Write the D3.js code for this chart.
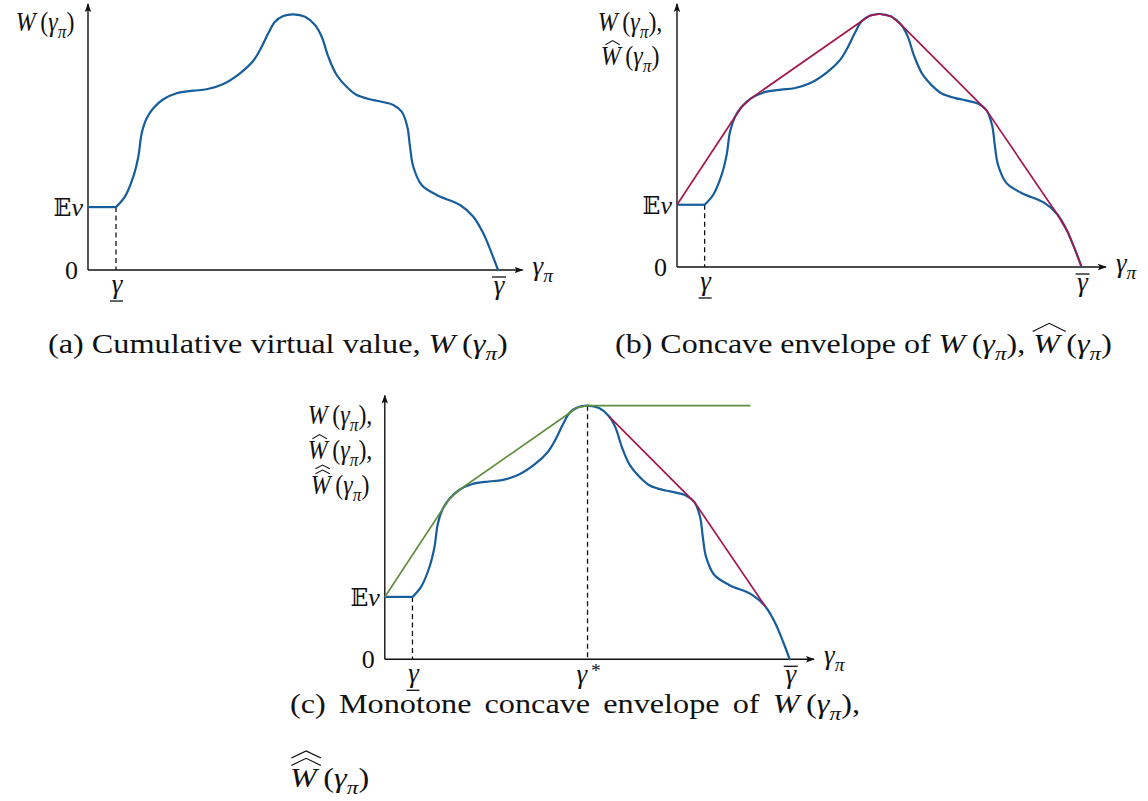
<!DOCTYPE html>
<html>
<head>
<meta charset="utf-8">
<script src="https://cdn.jsdelivr.net/npm/d3@7"></script>
<style>
  html, body { margin: 0; padding: 0; background: #fff; }
  svg { display: block; }
</style>
</head>
<body>
<svg id="chart" width="1148" height="801"></svg>
<script>
// ---- data: cumulative virtual value W(γπ), γπ scaled so that γ̄ = 100, W scaled so that max W = 100
const gammaPi = [6.83, 9.0, 11.05, 12.27, 13.1, 14.32, 15.93, 18.37, 21.63, 25.68, 28.95, 33.0, 37.07, 40.32,
  41.95, 43.98, 45.61, 47.63, 50.07, 52.93, 55.37, 57.0, 58.61, 60.66, 63.9, 65.54, 68.78, 70.41, 74.46,
  76.51, 77.88, 78.54, 79.34, 81.39, 85.05, 90.73, 93.98, 96.41, 98.46, 100];
const W = [24.6, 28.67, 36.49, 44.31, 53.46, 59.33, 63.24, 66.76, 69.11, 70.12, 70.67, 72.74, 76.93, 81.85,
  86.04, 92.57, 97.11, 99.34, 100, 99.06, 95.82, 91.24, 83.42, 76.26, 70.4, 68.44, 66.76, 66.21, 64.53,
  61.91, 56.04, 48.22, 40.4, 33.24, 29.33, 25.42, 20.84, 14.35, 6.53, 0];
const expectedValue = 24.6;   // W on [0, γ]
const gammaLow = 6.83;        // γ (underlined)
const gammaHigh = 100;        // γ̄
const flatEnd = 90.3;         // end of the flat part of the monotone envelope
const yTickValues = [0, expectedValue];

const SERIF = '"Liberation Serif", "Times New Roman", Tinos, Times, serif';
const INK = "#111";
const BLUE = "#165d9c", RED = "#a5174c", GREEN = "#5f8f3e";

const svg = d3.select("#chart");

// arrowhead for the axes
svg.append("defs").append("marker")
  .attr("id", "arrow").attr("viewBox", "0 -4 9 8")
  .attr("refX", 8).attr("refY", 0)
  .attr("markerWidth", 9).attr("markerHeight", 8)
  .attr("markerUnits", "userSpaceOnUse").attr("orient", "auto")
  .append("path").attr("d", "M0,-3.2 L9,0 L0,3.2 L1.8,0 Z").attr("fill", INK);

// ---- curve points and its concave envelope (upper hull)
const pts = [[0, expectedValue]].concat(gammaPi.map((g, i) => [g, W[i]]))
  .map((p, i) => ({ x: p[0], y: p[1], i }));

function upperHull(points) {
  const h = [];
  for (const p of points) {
    while (h.length >= 2) {
      const a = h[h.length - 2], b = h[h.length - 1];
      const cr = (b.x - a.x) * (p.y - a.y) - (b.y - a.y) * (p.x - a.x);
      if (cr >= 0) h.pop(); else break;
    }
    h.push(p);
  }
  return h;
}
const hull = upperHull(pts);
const peakIdx = d3.maxIndex(W);
const gammaStar = gammaPi[peakIdx];
const wMax = W[peakIdx];

// increasing part of the hull, then flat at the maximum
const monotoneEnv = hull.filter(p => p.x <= gammaStar).concat([{ x: flatEnd, y: wMax }]);
// straight bridges of the hull to the right of the peak
const rightBridges = [];
for (let k = 0; k < hull.length - 1; k++) {
  const a = hull[k], b = hull[k + 1];
  if (a.x >= gammaStar && b.i - a.i > 1) {
    if (!rightBridges.length || rightBridges[rightBridges.length - 1] !== a) rightBridges.push(a);
    rightBridges.push(b);
  }
}

// ---- math text helper: segments with italic / sub / sup and hats.
// Drawn in its own group at (x, y), optionally squeezed horizontally by sx.
function mathText(parent, segs, o) {
  const size = o.size || 26;
  const sx = o.sx || 1;
  const g = parent.append("g").attr("transform", `translate(${o.x || 0},${o.y || 0}) scale(${sx},1)`);
  const t = g.append("text")
    .attr("x", 0).attr("y", 0)
    .attr("font-family", SERIF).attr("font-size", size)
    .attr("fill", INK).attr("text-anchor", o.anchor || "start");
  let shift = 0;
  segs.forEach(s => {
    const sp = t.append("tspan").text(s.t);
    if (s.it) sp.attr("font-style", "italic");
    if (s.ff) sp.attr("font-family", s.ff);
    if (s.fs) sp.attr("font-size", size * s.fs);
    if (s.sub || s.sup) sp.attr("font-size", size * 0.72);
    const target = s.sub ? size * 0.26 : (s.sup ? -size * 0.22 : 0);
    if (target !== shift) { sp.attr("dy", target - shift); shift = target; }
  });
  let idx = 0;
  segs.forEach(s => {
    if (s.hats) {
      const e = t.node().getExtentOfChar(idx);
      const cx = e.x + e.width * 0.6;
      const hw = e.width * (s.hatW || 0.4);
      const h = size * (s.hatH || 0.13);
      const base = -size * (s.hatLift || 0.72);
      for (let k = 0; k < s.hats; k++) {
        const yb = base - k * (h * 0.7 + 2.5);
        g.append("path")
          .attr("d", `M${cx - hw},${yb}L${cx},${yb - h}L${cx + hw},${yb}`)
          .attr("fill", "none").attr("stroke", INK)
          .attr("stroke-width", (o.hatStroke || 1.1))
          .attr("stroke-linejoin", "miter");
      }
    }
    idx += s.t.length;
  });
  return g;
}
const Wof = (hats = 0, tail = "", hatOpts = {}) => [
  Object.assign({ t: "W", it: true, hats }, hatOpts),
  { t: "\u2009(" }, { t: "γ", it: true }, { t: "π", it: true, sub: true }, { t: ")" + tail }
];

// ---- panels
const hatSmall = { hatW: 0.36, hatH: 0.15, hatLift: 0.74 };
const panels = [
  { key: "a", left: 88, right: 498, base: 270, top: 14.3,
    title: [Wof(0)], titleX: 45, titleY: [31] },
  { key: "b", left: 677, right: 1081.6, base: 267, top: 14,
    title: [Wof(0, ","), Wof(1, "", hatSmall)], titleX: 630, titleY: [31, 65] },
  { key: "c", left: 384.8, right: 789.7, base: 659.3, top: 405.7,
    title: [Wof(0, ","), Wof(1, ",", hatSmall), Wof(2, "", { hatW: 0.36, hatH: 0.13, hatLift: 0.74 })],
    titleX: 340, titleY: [424, 459, 494] }
];

panels.forEach(P => {
  const g = svg.append("g").attr("class", "panel-" + P.key);
  const x = d3.scaleLinear().domain([0, gammaHigh]).range([P.left, P.right]);
  const y = d3.scaleLinear().domain([0, wMax]).range([P.base, P.top]);
  const line = d3.line().x(d => x(d.x)).y(d => y(d.y));

  // axes with arrows
  g.append("line").attr("x1", x(0)).attr("y1", y(0)).attr("x2", x(106)).attr("y2", y(0))
    .attr("stroke", INK).attr("stroke-width", 1.4).attr("marker-end", "url(#arrow)");
  g.append("line").attr("x1", x(0)).attr("y1", y(0)).attr("x2", x(0)).attr("y2", y(104))
    .attr("stroke", INK).attr("stroke-width", 1.4).attr("marker-end", "url(#arrow)");

  // dashed guides
  const dashed = [[gammaLow, expectedValue]];
  if (P.key === "c") dashed.push([gammaStar, wMax]);
  dashed.forEach(([gx, gy]) => {
    g.append("line").attr("x1", x(gx)).attr("x2", x(gx)).attr("y1", y(gy)).attr("y2", y(0))
      .attr("stroke", INK).attr("stroke-width", 1.3).attr("stroke-dasharray", "5,3.5");
  });

  // W(γπ)
  g.append("path").datum([{ x: 0, y: expectedValue }, { x: gammaLow, y: expectedValue }])
    .attr("d", line).attr("fill", "none").attr("stroke", BLUE).attr("stroke-width", 2.2);
  g.append("path").datum(pts.slice(1))
    .attr("d", line.curve(d3.curveCatmullRom.alpha(0.5)))
    .attr("fill", "none").attr("stroke", BLUE).attr("stroke-width", 2.2).attr("stroke-linecap", "round");
  line.curve(d3.curveLinear);

  if (P.key === "b") {
    g.append("path").datum(hull).attr("d", line)
      .attr("fill", "none").attr("stroke", RED).attr("stroke-width", 1.7).attr("stroke-linejoin", "round");
  }
  if (P.key === "c") {
    g.append("path").datum(rightBridges).attr("d", line)
      .attr("fill", "none").attr("stroke", RED).attr("stroke-width", 1.7);
    g.append("path").datum(monotoneEnv).attr("d", line)
      .attr("fill", "none").attr("stroke", GREEN).attr("stroke-width", 1.7).attr("stroke-linejoin", "round");
  }

  // y tick labels
  mathText(g, [{ t: "0" }], { x: x(0) - 10, y: y(yTickValues[0]) + 9, anchor: "end" });
  mathText(g, [{ t: "𝔼", ff: '"DejaVu Serif","DejaVu Sans",serif', fs: 0.9 }, { t: "v", it: true }],
    { x: x(0) - 5, y: y(yTickValues[1]) + 9, anchor: "end" });

  // x tick labels
  const lblY = y(0) + 23;
  mathText(g, [{ t: "γ", it: true }], { x: x(gammaLow) + 1, y: lblY, anchor: "middle", size: 27 });
  g.append("line").attr("x1", x(gammaLow) - 6).attr("x2", x(gammaLow) + 7)
    .attr("y1", y(0) + 31).attr("y2", y(0) + 31).attr("stroke", INK).attr("stroke-width", 1.3);
  mathText(g, [{ t: "γ", it: true }], { x: x(gammaHigh) + 1, y: lblY + 1, anchor: "middle", size: 27 });
  g.append("line").attr("x1", x(gammaHigh) - 6).attr("x2", x(gammaHigh) + 8)
    .attr("y1", y(0) + 7).attr("y2", y(0) + 7).attr("stroke", INK).attr("stroke-width", 1.3);
  if (P.key === "c") {
    mathText(g, [{ t: "γ", it: true }, { t: "\u2009*", sup: true }], { x: x(gammaStar) + 1, y: lblY + 1, anchor: "middle", size: 27 });
  }
  mathText(g, [{ t: "γ", it: true }, { t: "π", it: true, sub: true }], { x: x(106) + 10, y: y(0) + 5, size: 27 });

  // axis title lines
  P.title.forEach((segs, k) => {
    mathText(g, segs, { x: P.titleX, y: P.titleY[k], anchor: "middle", sx: 0.87, size: 27.5 });
  });
});

// ---- captions (set slightly wide, like Computer Modern)
const CAP = 27;
function caption(segs, x0, x1, yb) {
  const probe = mathText(svg, segs, { size: CAP });
  const bb = probe.node().getBBox();
  probe.remove();
  const sx = (x1 - x0) / bb.width;
  mathText(svg, segs, { size: CAP, x: x0 - bb.x * sx, y: yb, sx });
  return sx;
}
const capA = [{ t: "(a) Cumulative virtual value, " }].concat(Wof(0));
const capB = [{ t: "(b) Concave envelope of " }].concat(Wof(0, ", "),
  Wof(1, "", { hatW: 0.62, hatH: 0.3, hatLift: 0.8 }));
const sxA = caption(capA, 48, 508, 353);
caption(capB, 615, 1112, 353);

// (c) first line is justified between 290 and 860
(function () {
  const words = [[{ t: "(c)" }], [{ t: "Monotone" }], [{ t: "concave" }], [{ t: "envelope" }], [{ t: "of" }], Wof(0, ",")];
  const probes = words.map(w => mathText(svg, w, { size: CAP, sx: sxA }));
  const boxes = probes.map(p => p.node().getBBox());
  probes.forEach(p => p.remove());
  const widths = boxes.map(b => b.width * sxA);
  const gap = (860 - 290 - d3.sum(widths)) / (words.length - 1);
  let cx = 290;
  words.forEach((w, k) => {
    mathText(svg, w, { size: CAP, sx: sxA, x: cx - boxes[k].x * sxA, y: 713 });
    cx += widths[k] + gap;
  });
  mathText(svg, Wof(2, "", { hatW: 0.55, hatH: 0.26, hatLift: 0.8 }), { size: CAP, sx: sxA, x: 290, y: 787 });
})();
</script>
</body>
</html>
